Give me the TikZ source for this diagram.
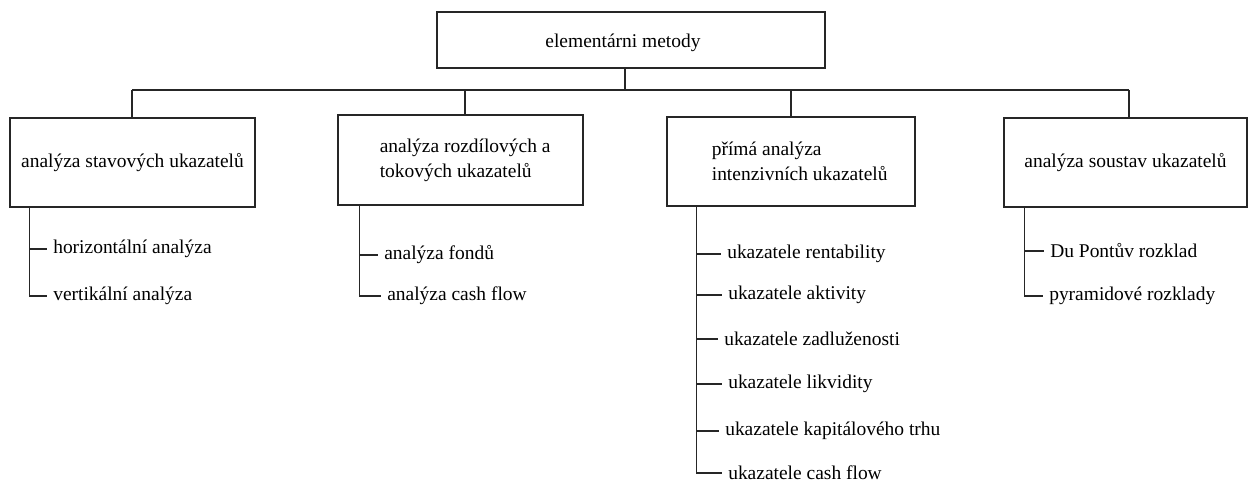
\documentclass[tikz,border=0pt]{standalone}
\usepackage{fontspec}
\setmainfont{Liberation Serif}
\usetikzlibrary{calc}
\begin{document}
\begin{tikzpicture}[x=0.75pt,y=-0.75pt,
  every node/.style={font=\fontsize{14.6}{18.75}\selectfont},
  ln/.style={line width=1.1pt,draw=black!85},
  boxnode/.style={ln,draw,rectangle,inner sep=0pt,align=left},
  item/.style={anchor=west,inner sep=4.5pt}]
\useasboundingbox (0,0) rectangle (1252,482);
% boxes
\node[boxnode,minimum width=291pt,minimum height=42pt,text height=14pt,text depth=3pt] (top) at (631,40) {\hspace*{-12pt}elementárni metody};
\node[boxnode,minimum width=183.75pt,minimum height=66.75pt] (b1) at (132.5,162.5) {analýza stavových ukazatelů};
\node[boxnode,minimum width=183.75pt,minimum height=67.5pt] (b2) at (460.5,160) {\hspace*{7pt}analýza rozdílových a\\\hspace*{7pt}tokových ukazatelů};
\node[boxnode,minimum width=186pt,minimum height=66.75pt] (b3) at (791,161.5) {\hspace*{13pt}přímá analýza\\\hspace*{13pt}intenzivních ukazatelů};
\node[boxnode,minimum width=182.25pt,minimum height=66.75pt] (b4) at (1125.5,162.5) {analýza soustav ukazatelů};
% bus
\coordinate (bus) at (625,90);
\coordinate (d1) at ($(b1.north)+(-0.5,0)$);
\coordinate (d2) at ($(b2.north)+(4.5,0)$);
\coordinate (d3) at ($(b3.north)+(0,0)$);
\coordinate (d4) at ($(b4.north)+(3.5,0)$);
\draw[ln] (top.south -| bus) -- (bus);
\draw[ln] (d1 |- bus) -- (d4 |- bus);
\foreach \d in {d1,d2,d3,d4} \draw[ln] (\d |- bus) -- (\d);
% items group 1
\node[item] (h1) at (47,249) {horizontální analýza};
\node[item] (h2) at (47,296) {vertikální analýza};
\coordinate (t1) at ($(b1.south west)+(20,0)$);
\draw[ln] (t1) |- (h2.west);
\draw[ln] (t1 |- h1.west) -- (h1.west);
% group 2
\node[item] (f1) at (378,255) {analýza fondů};
\node[item] (f2) at (381,296) {analýza cash flow};
\coordinate (t2) at ($(b2.south west)+(22,0)$);
\draw[ln] (t2) |- (f2.west);
\draw[ln] (t2 |- f1.west) -- (f1.west);
% group 3
\node[item] (u1) at (721,254) {ukazatele rentability};
\node[item] (u2) at (722,295) {ukazatele aktivity};
\node[item] (u3) at (718,339) {ukazatele zadluženosti};
\node[item] (u4) at (722,384) {ukazatele likvidity};
\node[item] (u5) at (719,431) {ukazatele kapitálového trhu};
\node[item] (u6) at (722,473) {ukazatele cash flow};
\coordinate (t3) at ($(b3.south west)+(30,0)$);
\draw[ln] (t3) |- (u6.west);
\foreach \u in {u1,u2,u3,u4,u5} \draw[ln] (t3 |- \u.west) -- (\u.west);
% group 4
\node[item] (p1) at (1044,251) {Du Pontův rozklad};
\node[item] (p2) at (1043,296) {pyramidové rozklady};
\coordinate (t4) at ($(b4.south west)+(21,0)$);
\draw[ln] (t4) |- (p2.west);
\draw[ln] (t4 |- p1.west) -- (p1.west);
\end{tikzpicture}
\end{document}
